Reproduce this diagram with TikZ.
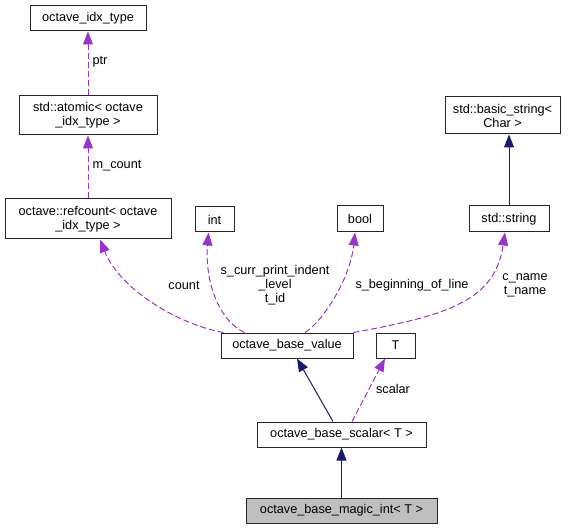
\documentclass[tikz,border=0pt]{standalone}
\usepackage{fontspec}
\setmainfont{Liberation Sans}
\usetikzlibrary{positioning, arrows.meta}
\definecolor{depcol}{RGB}{154,50,205}
\definecolor{inhcol}{RGB}{25,25,112}

\begin{document}
\begin{tikzpicture}[x=1pt, y=-1pt, font=\fontsize{12.7}{14}\selectfont,
    box/.style={draw=black!85, line width=1pt, inner sep=0pt, minimum height=25pt, align=center},
    dep/.style={draw=depcol, line width=1pt, dash pattern=on 6pt off 3pt, -{Triangle[length=13pt, width=10pt, fill=depcol, sep=0pt]}},
    inh/.style={draw=inhcol, line width=1pt, -{Triangle[length=13pt, width=10pt, fill=inhcol]}},
    lbl/.style={inner sep=0pt, align=center}]
    \useasboundingbox (0,0) rectangle (578,529);

    \node[box, minimum width=116pt] (idx) at (88,18.5) {octave\_idx\_type};
    \node[box, minimum width=138pt, minimum height=39pt] (atomic) at (88,115.5) {std::atomic< octave\\\_idx\_type >};
    \node[box, minimum width=166pt, minimum height=40pt] (refcount) at (88,219) {octave::refcount< octave\\\_idx\_type >};
    \node[box, minimum width=39pt] (int) at (214.5,219.5) {int};
    \node[box, minimum width=46pt, minimum height=26pt] (bool) at (360,219) {bool};
    \node[box, minimum width=80pt, minimum height=26pt] (string) at (509,219) {std::string};
    \node[box, minimum width=115pt, minimum height=37pt] (basic) at (502.5,115.5) {std::basic\_string<\\Char >};
    \node[box, minimum width=132pt] (value) at (287,345.5) {octave\_base\_value};
    \node[box, minimum width=39pt] (T) at (395.5,345.5) {T};
    \node[box, minimum width=169pt] (scalar) at (341.5,434.5) {octave\_base\_scalar< T >};
    \node[box, minimum width=191pt, fill=black!25] (magic) at (341.5,510.5) {octave\_base\_magic\_int< T >};

    % member links
    \draw[dep] (atomic.north) -- (idx.south);
    \draw[dep] (refcount.north) -- (atomic.south);
    \draw[dep] ([xshift=3pt]value.north west) .. controls (180,325) and (120,290) .. ([xshift=12pt]refcount.south);
    \draw[dep] ([xshift=24pt]value.north west) .. controls (215,318) and (205,275) .. ([xshift=-6pt]int.south);
    \draw[dep] ([xshift=18pt]value.north) .. controls (322,322) and (350,280) .. ([xshift=-5pt]bool.south);
    \draw[dep] (value.north east) .. controls (450,315) and (495,300) .. ([xshift=-4pt]string.south);
    \draw[dep] ([xshift=10.5pt]scalar.north) -- ([xshift=-10.5pt]T.south);

    % base classes
    \draw[inh] (string.north) -- ([xshift=6.5pt]basic.south);
    \draw[inh] ([xshift=-8.5pt]scalar.north) -- ([xshift=10pt]value.south);
    \draw[inh] (magic.north) -- (scalar.south);

    \node[lbl] (ptrlbl) at (100,62) {ptr};
    \node[lbl] (mcountlbl) at (117,166) {m\_count};
    \node[lbl] (countlbl) at (184,285) {count};
    \node[lbl] (indentlbl) at (275,285) {s\_curr\_print\_indent\\\_level\\t\_id};
    \node[lbl] (beginlbl) at (412,285) {s\_beginning\_of\_line};
    \node[lbl] (namelbl) at (525,285.5) {c\_name\\t\_name};
    \node[lbl] (scalarlbl) at (393,389) {scalar};
\end{tikzpicture}
\end{document}
